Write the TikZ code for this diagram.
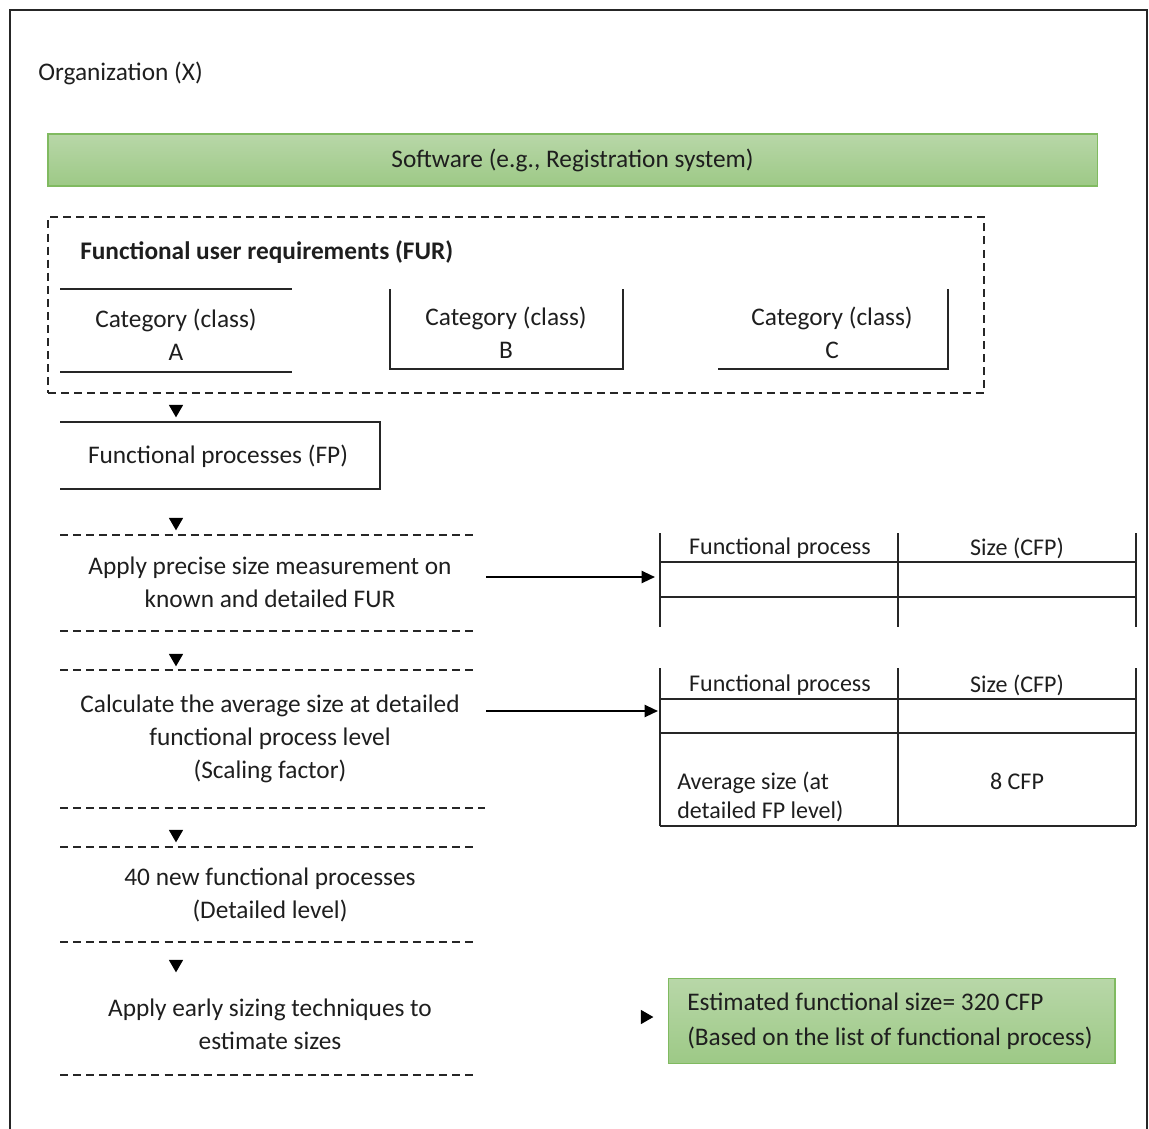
\documentclass[tikz,border=0pt]{standalone}
\usepackage{fontspec}
\setmainfont{Carlito}
\usetikzlibrary{arrows.meta,shapes.geometric}
\definecolor{gtop}{RGB}{184,215,168}
\definecolor{gbot}{RGB}{157,201,134}
\definecolor{gline}{RGB}{128,186,96}
\definecolor{txt}{RGB}{30,30,30}
\tikzset{
  ln/.style={line width=1.6pt, draw=black!85},
  dln/.style={line width=1.4pt, draw=black!85, dash pattern=on 6pt off 3.8pt},
  greenbox/.style={draw=gline, line width=1pt, top color=gtop, bottom color=gbot},
  lbl/.style={font=\fontsize{19}{24.7}\selectfont, text=txt, align=center, inner sep=0pt},
  small/.style={font=\fontsize{18}{22}\selectfont, text=txt, align=center, inner sep=0pt},
  tri/.style={regular polygon, regular polygon sides=3, fill=black, draw=none, inner sep=0pt, minimum size=12.5pt},
  arr/.style={line width=1.6pt, -{Triangle[length=10pt,width=9pt]}},
}
\begin{document}
\begin{tikzpicture}[x=0.75pt,y=-0.75pt]
\useasboundingbox (0,0) rectangle (1149,1128);
% outer frame
\coordinate (f1) at (10,1140); \coordinate (f2) at (10,10); \coordinate (f3) at (1147,10); \coordinate (f4) at (1147,1140);
\draw[ln] (f1) -- (f2) -- (f3) -- (f4);
\node[lbl, anchor=west] (org) at (38,73) {Organization (X)};
% software bar
\node[greenbox, minimum width=787pt, minimum height=39pt, inner sep=0pt, lbl] (sw) at (572.5,160) {Software (e.g., Registration system)};
% FUR box
\node[dln, minimum width=702pt, minimum height=132pt, inner sep=0pt] (fur) at (516,305) {};
\node[lbl, anchor=west, font=\fontsize{19}{24}\selectfont\bfseries] (furt) at (80,252) {Functional user requirements (FUR)};
% category A
\coordinate (a1) at (60,289); \coordinate (a2) at (292,289); \coordinate (a3) at (60,372); \coordinate (a4) at (292,372);
\draw[ln] (a1) -- (a2); \draw[ln] (a3) -- (a4);
\node[lbl] (ca) at (176,334.5) {Category (class)\\A};
% category B
\coordinate (b1) at (390,289); \coordinate (b2) at (390,369); \coordinate (b3) at (623,369); \coordinate (b4) at (623,289);
\draw[ln] (b1) -- (b2) -- (b3) -- (b4);
\node[lbl] (cb) at (506,332.5) {Category (class)\\B};
% category C
\coordinate (c1) at (718,369); \coordinate (c2) at (948,369); \coordinate (c3) at (948,289);
\draw[ln] (c1) -- (c2) -- (c3);
\node[lbl] (cc) at (832,332.5) {Category (class)\\C};
% triangles
\node[tri, shape border rotate=180] (t1) at (176,409) {};
\node[tri, shape border rotate=180] (t2) at (176,522) {};
\node[tri, shape border rotate=180] (t3) at (176,658) {};
\node[tri, shape border rotate=180] (t4) at (176,834) {};
\node[tri, shape border rotate=180] (t5) at (176,964) {};
\node[tri, shape border rotate=-90] (t6) at (645,1017) {};
% FP box
\coordinate (p1) at (60,422); \coordinate (p2) at (380,422); \coordinate (p3) at (380,489); \coordinate (p4) at (60,489);
\draw[ln] (p1) -- (p2) -- (p3) -- (p4);
\node[lbl] (fp) at (218,456) {Functional processes (FP)};
% dashed separators
\coordinate (d1a) at (60,535);  \coordinate (d1b) at (478,535);
\coordinate (d2a) at (60,631);  \coordinate (d2b) at (478,631);
\coordinate (d3a) at (60,670);  \coordinate (d3b) at (478,670);
\coordinate (d4a) at (60,808);  \coordinate (d4b) at (485,808);
\coordinate (d5a) at (60,847);  \coordinate (d5b) at (478,847);
\coordinate (d6a) at (60,942);  \coordinate (d6b) at (478,942);
\coordinate (d7a) at (60,1075); \coordinate (d7b) at (478,1075);
\foreach \i in {1,...,7} {\draw[dln] (d\i a) -- (d\i b);}
% step texts
\node[lbl] (s1) at (270,582.5) {Apply precise size measurement on\\known and detailed FUR};
\node[lbl] (s2) at (270,738.5) {Calculate the average size at detailed\\functional process level\\(Scaling factor)};
\node[lbl] (s3) at (270,894.5) {40 new functional processes\\(Detailed level)};
\node[lbl] (s4) at (270,1024) {Apply early sizing techniques to\\estimate sizes};
% table 1
\coordinate (u1) at (660,533); \coordinate (u2) at (660,627);
\coordinate (u3) at (898,533); \coordinate (u4) at (898,627);
\coordinate (u5) at (1136,533); \coordinate (u6) at (1136,627);
\coordinate (u7) at (660,562); \coordinate (u8) at (1136,562);
\coordinate (u9) at (660,597); \coordinate (u10) at (1136,597);
\draw[ln] (u1) -- (u2); \draw[ln] (u3) -- (u4); \draw[ln] (u5) -- (u6);
\draw[ln] (u7) -- (u8); \draw[ln] (u9) -- (u10);
\node[small] (h1) at (780,548) {Functional process};
\node[small] (h2) at (1017,548) {Size (CFP)};
% table 2
\coordinate (v1) at (660,668); \coordinate (v2) at (660,826);
\coordinate (v3) at (898,668); \coordinate (v4) at (898,826);
\coordinate (v5) at (1136,668); \coordinate (v6) at (1136,826);
\coordinate (v7) at (660,699); \coordinate (v8) at (1136,699);
\coordinate (v9) at (660,733); \coordinate (v10) at (1136,733);
\coordinate (v11) at (660,826); \coordinate (v12) at (1136,826);
\draw[ln] (v1) -- (v2); \draw[ln] (v3) -- (v4); \draw[ln] (v5) -- (v6);
\draw[ln] (v7) -- (v8); \draw[ln] (v9) -- (v10); \draw[ln] (v11) -- (v12);
\node[small] (h3) at (780,685) {Functional process};
\node[small] (h4) at (1017,685) {Size (CFP)};
\node[small, align=left, anchor=west] (avg) at (677,797) {Average size (at\\detailed FP level)};
\node[small] (cfp) at (1017,781) {8 CFP};
% arrows
\coordinate (e1) at (486,577); \coordinate (e2) at (655,577);
\coordinate (e3) at (486,711); \coordinate (e4) at (658,711);
\draw[arr] (e1) -- (e2);
\draw[arr] (e3) -- (e4);
% estimated box
\node[greenbox, minimum width=335pt, minimum height=64pt, inner sep=0pt] (est) at (891.5,1021) {};
\node[lbl, align=left, anchor=west, font=\fontsize{19}{26}\selectfont] (estt) at (687,1021) {Estimated functional size= 320 CFP\\(Based on the list of functional process)};
\end{tikzpicture}
\end{document}
